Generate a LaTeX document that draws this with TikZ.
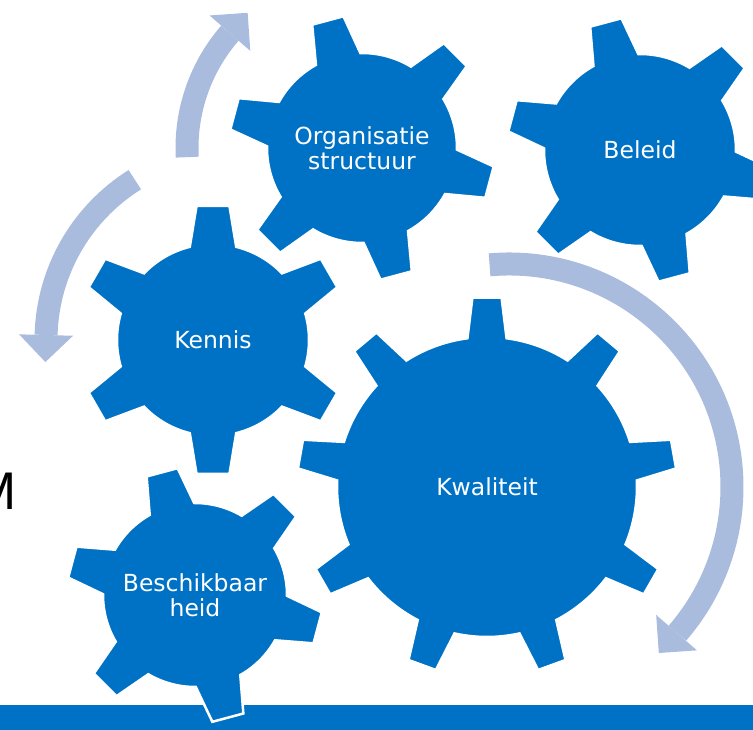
\documentclass[tikz,border=0pt]{standalone}
\usepackage{fontspec}
\usepackage{tikz}
\usetikzlibrary{calc}

\newfontfamily\gearfont{DejaVu Sans}
\newfontfamily\mfont{Liberation Sans}

\definecolor{gearblue}{RGB}{0,114,198}
\definecolor{turnblue}{RGB}{170,188,222}

% #1 centre, #2 teeth, #3 first tooth, #4 root radius, #5 tip radius,
% #6 half angle at root, #7 half angle at tip
\newcommand\cogwheel[7]{%
  \filldraw[gear,shift={#1}] ({#3-#6}:#4)
  \foreach \k in {1,...,#2}{
    -- ({#3+(\k-1)*360/#2-#6}:#4)
    -- ({#3+(\k-1)*360/#2-#7}:#5)
    -- ({#3+(\k-1)*360/#2+#7}:#5)
    -- ({#3+(\k-1)*360/#2+#6}:#4)
    arc[start angle={#3+(\k-1)*360/#2+#6},end angle={#3+\k*360/#2-#6},radius=#4]
  } -- cycle;}

\begin{document}
\begin{tikzpicture}[x=1pt,y=1pt,
                    gearlabel/.style={text=white,align=center,
                      font=\gearfont\fontsize{23.5}{25}\selectfont}]

  \tikzstyle{gear}=[fill=gearblue,draw=white,line width=2.5pt,line join=miter]
  \tikzstyle{turn}=[draw=turnblue,line width=23pt]
  \tikzstyle{turnhead}=[fill=turnblue]

  \useasboundingbox (0,0) rectangle (753,730);
  \clip (0,0) rectangle (753,730);

  \coordinate (orgc)  at (362,582);
  \coordinate (belc)  at (640,580);
  \coordinate (kenc)  at (213,390);
  \coordinate (kwac)  at (487,243);
  \coordinate (besc)  at (195,135);

  \fill[gearblue] (0,0) rectangle (753,25);

  \node[anchor=base east,inner sep=0pt,
        font=\mfont\fontsize{53}{60}\selectfont] (mletter) at (17,220) {M};

  % turning arrows
  \draw[turn] ([shift={(183:175)}]orgc) arc[start angle=183,end angle=139,radius=175];
  \fill[turnhead,shift={(orgc)}] (139:148) -- (139:202) -- ($(139:175)+(49:27)$) -- cycle;

  \draw[turn] ([shift={(122:189)}]235,390) arc[start angle=122,end angle=178.5,radius=189];
  \fill[turnhead,shift={(235,390)}] (178.5:162) -- (178.5:216) -- ($(178.5:189)+(268.5:27)$) -- cycle;

  \draw[turn] ([shift={(95:223)}]509,243) arc[start angle=95,end angle=-41,radius=223];
  \fill[turnhead,shift={(509,243)}] (-41:195) -- (-41:249) -- ($(-41:222)+(-131:27)$) -- cycle;

  % gears
  \cogwheel{(orgc)}{6}{105}{95}{133}{14}{7}
  \cogwheel{(belc)}{6}{105}{96}{133}{14}{7}
  \cogwheel{(kenc)}{6}{90}{96}{135}{14}{7}
  \cogwheel{(kwac)}{9}{90}{150}{190}{7.5}{4.4}
  \cogwheel{(besc)}{6}{105}{92}{128}{14.5}{7.2}

  \node[gearlabel] (org) at (orgc) {Organisatie\\structuur};
  \node[gearlabel] (bel) at (belc) {Beleid};
  \node[gearlabel] (ken) at (kenc) {Kennis};
  \node[gearlabel] (kwa) at (kwac) {Kwaliteit};
  \node[gearlabel] (bes) at (besc) {Beschikbaar\\heid};
\end{tikzpicture}
\end{document}
